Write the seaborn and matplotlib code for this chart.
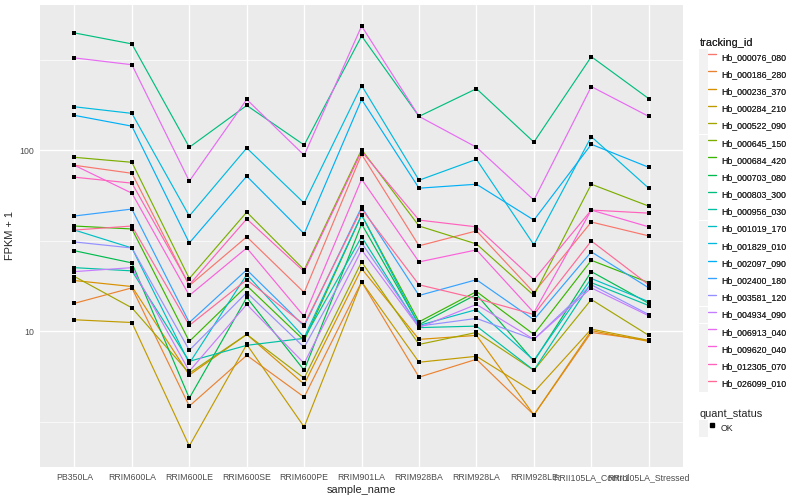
"""expression plot of 20 Hevea transcripts across samples, ggplot-like look"""
import numpy as np
import pandas as pd
import matplotlib

matplotlib.use("Agg")
import matplotlib.pyplot as plt
from matplotlib.patches import Rectangle
from matplotlib.lines import Line2D
from matplotlib.legend_handler import HandlerTuple
import seaborn as sns

samples = [
    "PB350LA", "RRIM600LA", "RRIM600LE", "RRIM600SE", "RRIM600PE", "RRIM901LA",
    "RRIM928BA", "RRIM928LA", "RRIM928LE", "RRII105LA_Control", "RRII105LA_Stressed",
]

# FPKM + 1
hb_000076_080 = [82.7, 74.7, 17.9, 33.3, 16.4, 95.1, 29.7, 35.9, 16.4, 40.2, 33.7]
hb_000186_280 = [14.3, 17.4, 3.87, 7.38, 4.34, 18.8, 5.59, 7.02, 3.46, 9.87, 8.92]
hb_000236_370 = [19.1, 17.7, 5.74, 9.63, 5.11, 22.2, 9.04, 9.51, 3.46, 10.1, 8.81]
hb_000284_210 = [11.6, 11.2, 2.33, 8.48, 2.97, 18.8, 6.76, 7.29, 4.62, 10.3, 8.92]
hb_000522_090 = [20.1, 13.5, 5.88, 9.63, 5.52, 24.2, 8.48, 9.87, 6.10, 15.0, 9.51]
hb_000645_150 = [91.5, 85.9, 19.6, 45.6, 21.9, 101, 38.2, 30.4, 15.8, 65.0, 49.2]
hb_000684_420 = [38.2, 36.8, 8.81, 17.9, 8.92, 43.9, 11.3, 16.6, 9.63, 24.7, 18.6]
hb_000703_080 = [27.9, 23.9, 4.28, 15.4, 6.10, 39.2, 10.9, 16.0, 6.84, 21.4, 14.3]
hb_000803_300 = [445, 387, 104, 177, 107, 428, 154, 219, 111, 329, 193]
hb_000956_030 = [22.5, 21.6, 6.84, 8.38, 9.16, 33.3, 10.5, 10.7, 6.10, 18.6, 13.9]
hb_001019_170 = [36.3, 28.9, 6.67, 20.6, 9.27, 43.9, 10.8, 13.2, 6.93, 19.6, 14.6]
hb_001829_010 = [174, 160, 43.4, 103, 51.1, 228, 68.4, 89.2, 30.1, 119, 61.8]
hb_002097_090 = [156, 136, 30.8, 72.0, 34.6, 191, 61.8, 65.0, 41.2, 108, 80.6]
hb_002400_180 = [43.4, 47.4, 11.2, 21.9, 10.7, 48.6, 15.8, 19.3, 11.6, 27.5, 17.4]
hb_003581_120 = [31.2, 28.9, 7.87, 16.4, 8.17, 30.8, 10.7, 11.8, 9.04, 18.1, 12.4]
hb_004934_090 = [21.4, 22.5, 6.03, 14.1, 6.67, 28.2, 10.5, 14.1, 9.04, 17.4, 12.2]
hb_006913_040 = [324, 297, 67.6, 191, 93.9, 486, 154, 104, 53.1, 225, 154]
hb_009620_040 = [82.7, 58.0, 15.8, 28.9, 12.1, 69.3, 24.2, 28.2, 12.7, 46.8, 37.8]
hb_012305_070 = [71.1, 65.9, 18.1, 41.8, 21.4, 98.7, 41.2, 37.8, 19.3, 46.8, 45.0]
hb_026099_010 = [36.3, 38.2, 10.8, 19.3, 10.9, 47.4, 18.1, 15.2, 12.4, 31.6, 18.1]

tracking_ids = [
    "Hb_000076_080", "Hb_000186_280", "Hb_000236_370", "Hb_000284_210",
    "Hb_000522_090", "Hb_000645_150", "Hb_000684_420", "Hb_000703_080",
    "Hb_000803_300", "Hb_000956_030", "Hb_001019_170", "Hb_001829_010",
    "Hb_002097_090", "Hb_002400_180", "Hb_003581_120", "Hb_004934_090",
    "Hb_006913_040", "Hb_009620_040", "Hb_012305_070", "Hb_026099_010",
]
series = [
    hb_000076_080, hb_000186_280, hb_000236_370, hb_000284_210, hb_000522_090,
    hb_000645_150, hb_000684_420, hb_000703_080, hb_000803_300, hb_000956_030,
    hb_001019_170, hb_001829_010, hb_002097_090, hb_002400_180, hb_003581_120,
    hb_004934_090, hb_006913_040, hb_009620_040, hb_012305_070, hb_026099_010,
]


def hcl_hex(h, c=100.0, l=65.0):
    """polar CIELUV -> sRGB, same maths as R's hcl()"""
    wx, wy, wz = 95.047, 100.0, 108.883
    un = 4 * wx / (wx + 15 * wy + 3 * wz)
    vn = 9 * wy / (wx + 15 * wy + 3 * wz)
    hr = np.deg2rad(h)
    uu, vv = c * np.cos(hr), c * np.sin(hr)
    y = wy * ((l + 16) / 116) ** 3
    u = uu / (13 * l) + un
    v = vv / (13 * l) + vn
    x = 9.0 * y * u / (4 * v)
    z = -x / 3 - 5 * y + 3 * y / v
    rgb = np.array([
        3.240479 * x - 1.537150 * y - 0.498535 * z,
        -0.969256 * x + 1.875992 * y + 0.041556 * z,
        0.055648 * x - 0.204043 * y + 1.057311 * z,
    ]) / wy
    rgb = np.where(rgb > 0.00304, 1.055 * np.abs(rgb) ** (1 / 2.4) - 0.055, 12.92 * rgb)
    rgb = np.clip(rgb, 0, 1)
    return matplotlib.colors.to_hex(rgb)


n = len(tracking_ids)
hues = np.linspace(15, 375 - 360 / n, n)
palette = [hcl_hex(h) for h in hues]

df = pd.DataFrame(
    {
        "tracking_id": np.repeat(tracking_ids, len(samples)),
        "sample_name": samples * n,
        "FPKM": np.concatenate(series),
    }
)

sns.set_style("darkgrid", {"axes.facecolor": "#EBEBEB", "grid.color": "white"})
plt.rcParams["font.family"] = ["Liberation Sans", "DejaVu Sans"]

fig = plt.figure(figsize=(8, 5), dpi=100)
ax = fig.add_axes([0.05, 0.066, 0.804, 0.924])

sns.lineplot(
    data=df,
    x="sample_name",
    y="FPKM",
    hue="tracking_id",
    hue_order=tracking_ids,
    palette=palette,
    sort=False,
    estimator=None,
    errorbar=None,
    lw=0.85,
    legend=False,
    ax=ax,
)
sns.scatterplot(
    data=df, x="sample_name", y="FPKM", color="black", marker="s",
    s=10, linewidth=0, legend=False, ax=ax, zorder=5,
)

ax.set_yscale("log")
ax.set_xlim(-0.6, len(samples) - 0.4)
ax.set_yticks([10, 100], labels=["10", "100"])
ax.set_yticks([10 ** 0.5, 10 ** 1.5, 10 ** 2.5], minor=True)
ax.yaxis.set_minor_formatter(matplotlib.ticker.NullFormatter())
ax.grid(which="major", color="white", lw=1.0)
ax.grid(which="minor", color="white", lw=0.5)
ax.tick_params(which="major", length=2.2, width=0.6, color="#333333",
               labelsize=6.3, labelcolor="#4D4D4D", pad=2)
ax.tick_params(which="minor", length=0)
for sp in ax.spines.values():
    sp.set_visible(False)
ax.set_xlabel("sample_name", fontsize=7.9, labelpad=2)
ax.set_ylabel("FPKM + 1", fontsize=7.9, labelpad=3)

# legends, ggplot style: grey key boxes
key_bg = dict(facecolor="#F2F2F2", edgecolor="none")
common = dict(
    loc="upper left", frameon=False, borderpad=0,
    handler_map={tuple: HandlerTuple(ndivide=None, pad=0)},
    fontsize=6.3, title_fontsize=7.9, handlelength=1.95, handleheight=2.6,
    labelspacing=0.03, handletextpad=0.5, alignment="left",
)
handles = [(Rectangle((0, 0), 1, 1, **key_bg), Line2D([], [], color=c, lw=0.85)) for c in palette]
leg1 = fig.legend(handles, tracking_ids, title="tracking_id",
                  bbox_to_anchor=(695 / 800, 1 - 34 / 500), **common)
ok_handle = (Rectangle((0, 0), 1, 1, **key_bg),
             Line2D([], [], color="black", marker="s", ls="none", markersize=2.6))
leg2 = fig.legend([ok_handle], ["OK"], title="quant_status",
                  bbox_to_anchor=(695 / 800, 1 - 405 / 500), **common)
fig.add_artist(leg1)

fig.savefig("out.png", dpi=100, facecolor="white")
